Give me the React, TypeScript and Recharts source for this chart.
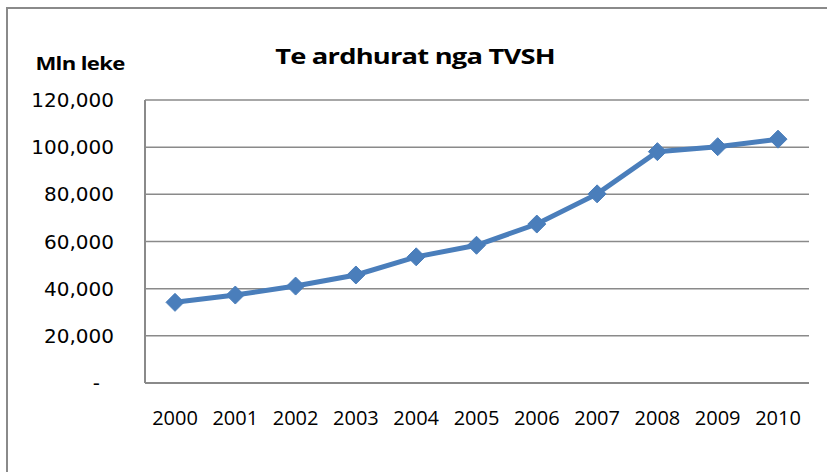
import React from 'react';
import { LineChart, Line, XAxis, YAxis, CartesianGrid } from 'recharts';

const years = ['2000', '2001', '2002', '2003', '2004', '2005', '2006', '2007', '2008', '2009', '2010'];
const vatRevenue = [34200, 37300, 41100, 45800, 53500, 58400, 67400, 80200, 98100, 100200, 103400];
const yTicks = [0, 20000, 40000, 60000, 80000, 100000, 120000];

const data = years.map((year, i) => ({ year, value: vatRevenue[i] }));

const LINE_BLUE = '#4a7ebb';
const GRID_GRAY = '#8a8a8a';

const Diamond = (props: any) => {
  const { cx, cy } = props;
  if (cx == null || cy == null) return null;
  const r = 9;
  return (
    <polygon
      points={`${cx},${cy - r} ${cx + r},${cy} ${cx},${cy + r} ${cx - r},${cy}`}
      fill={LINE_BLUE}
      stroke={LINE_BLUE}
      strokeWidth={1}
    />
  );
};

const YTick = (props: any) => {
  const { x, y, payload } = props;
  const v = payload.value as number;
  if (v === 0) {
    return (
      <text x={x - 14} y={y} textAnchor="end" dominantBaseline="central" fill="#000" fontSize={20} fontFamily="DejaVu Sans">
        -
      </text>
    );
  }
  return (
    <text x={x} y={y} textAnchor="end" dominantBaseline="central" fill="#000" fontSize={20} fontFamily="DejaVu Sans">
      {v.toLocaleString('en-US')}
    </text>
  );
};

export default function App() {
  return (
    <div style={{ position: 'fixed', left: 0, top: 0, width: 827, height: 472, overflow: 'hidden', background: '#fff' }}>
      {/* outer chart frame, cropped on the right and bottom */}
      <div style={{ position: 'absolute', left: 6, top: 7, width: 900, height: 600, border: `2px solid ${GRID_GRAY}` }} />
      <div
        style={{
          position: 'absolute', left: 415, top: 42, transform: 'translateX(-50%) scaleX(1.3)',
          fontFamily: 'Open Sans', fontWeight: 700, fontSize: 21, whiteSpace: 'nowrap', letterSpacing: -0.6,
        }}
      >
        Te ardhurat nga TVSH
      </div>
      <div
        style={{
          position: 'absolute', left: 80, top: 52, transform: 'translateX(-50%) scaleX(1.3)',
          fontFamily: 'Open Sans', fontWeight: 700, fontSize: 17, whiteSpace: 'nowrap', letterSpacing: -0.5,
        }}
      >
        Mln leke
      </div>
      <div style={{ position: 'absolute', left: 0, top: 0 }}>
        <LineChart width={827} height={472} data={data} margin={{ top: 100, right: 18, bottom: 29, left: 45 }}>
          <CartesianGrid horizontal vertical={false} stroke={GRID_GRAY} strokeWidth={1.5} />
          <XAxis
            dataKey="year"
            axisLine={{ stroke: GRID_GRAY, strokeWidth: 2 }}
            tickLine={false}
            tickSize={0}
            tickMargin={28}
            height={60}
            padding={{ left: 30, right: 31 }}
            tick={{ fill: '#000', fontSize: 20, fontFamily: 'Open Sans' }}
            interval={0}
          />
          <YAxis
            width={100}
            domain={[0, 120000]}
            ticks={yTicks}
            axisLine={{ stroke: GRID_GRAY, strokeWidth: 2 }}
            tickLine={false}
            tickSize={0}
            tickMargin={31}
            tick={<YTick />}
            interval={0}
          />
          <Line
            type="linear"
            dataKey="value"
            stroke={LINE_BLUE}
            strokeWidth={5}
            dot={<Diamond />}
            activeDot={false}
            isAnimationActive={false}
          />
        </LineChart>
      </div>
    </div>
  );
}
